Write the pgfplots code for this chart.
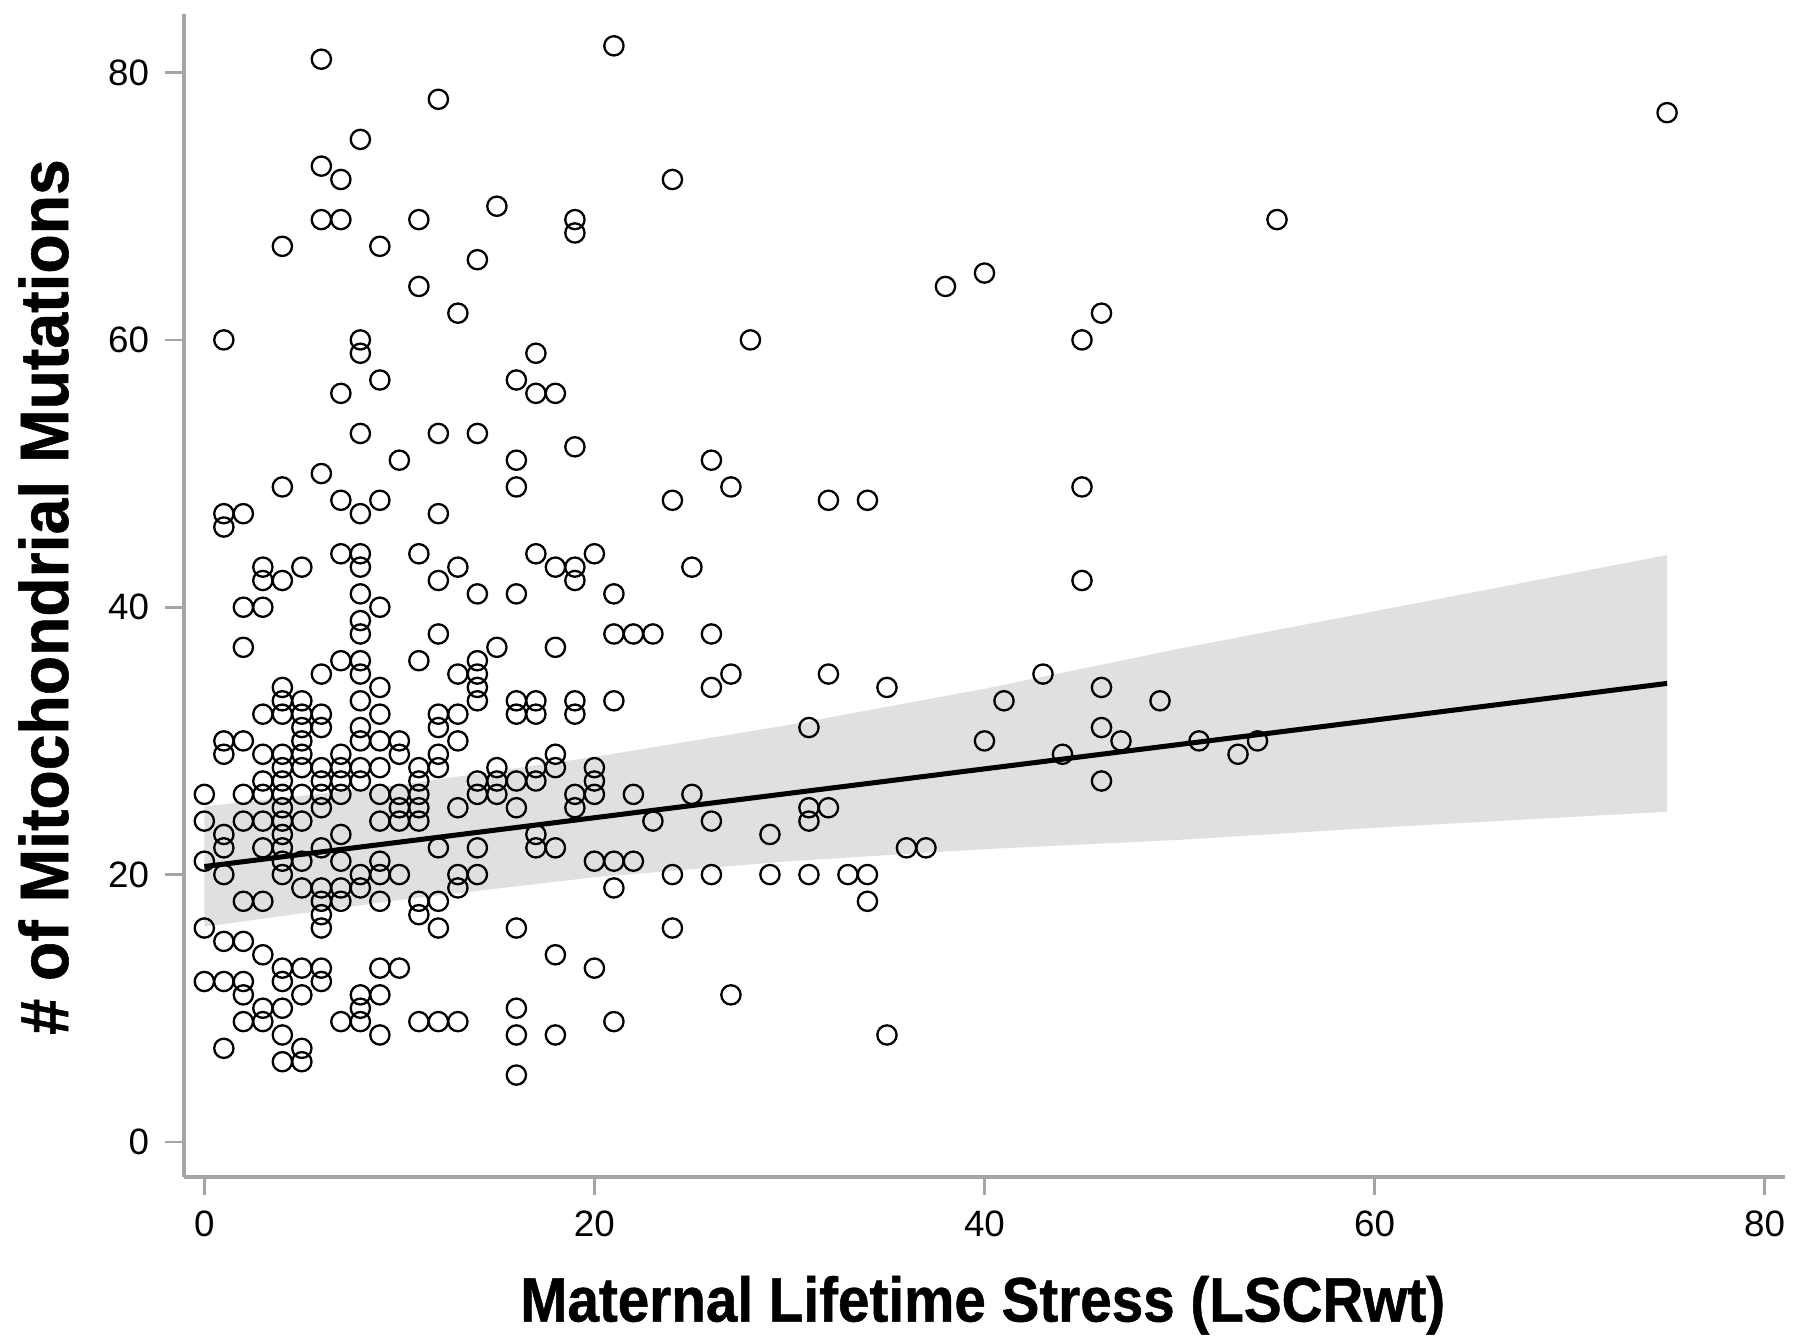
\documentclass[border=0pt]{standalone}
\usepackage{fontspec}
\setmainfont{Liberation Sans}
\newfontfamily\xlabelfont[FakeStretch=0.90,FakeBold=0.8]{Liberation Sans}
\newfontfamily\ylabelfont[FakeStretch=0.94,FakeBold=0.8]{Liberation Sans}
\usepackage{pgfplots}
\pgfplotsset{compat=1.18}
\definecolor{bandgray}{RGB}{226,223,224}
\definecolor{axisgray}{RGB}{165,165,165}

\begin{document}
\begin{tikzpicture}
  \begin{axis}[
      scale only axis, width=348.75pt, height=253.25pt,
      xmin=-1.06, xmax=81.05, ymin=-2.6, ymax=84.4,
      axis x line=bottom, axis y line=left,
      axis line style={-, axisgray, line width=0.9pt},
      xtick={0,20,40,60,80}, ytick={0,20,40,60,80},
      tick align=outside, major tick length=4pt,
      tick style={axisgray, line width=0.6pt},
      tick label style={font=\fontsize{8}{9}\selectfont},
      /pgf/number format/assume math mode=true,
      xlabel={Maternal Lifetime Stress (LSCRwt)},
      ylabel={\# of Mitochondrial Mutations},
      xlabel style={font=\xlabelfont\bfseries\fontsize{13.7}{15}\selectfont,
        at={(axis description cs:0.499,-0.1106)}, anchor=center},
      ylabel style={font=\ylabelfont\bfseries\fontsize{14.9}{16}\selectfont,
        at={(axis description cs:-0.0875,0.4985)}, anchor=center},
    ]
    % confidence band of the fit
    \addplot[fill=bandgray, draw=none] coordinates {
      (0,25.1) (10,26.7) (20,28.8) (30,31.2) (40,33.9) (50,36.9) (60,39.7) (75,43.9)
      (75,24.7) (60,23.5) (50,22.6) (40,21.9) (30,21.0) (20,19.8) (10,18.1) (0,16.1)};
    % observations
    \addplot[only marks, mark=o, mark size=2.1pt, mark options={black, line width=0.5pt}]
      coordinates {
      (0,26) (0,24) (0,21) (0,16) (0,12)
      (1,60) (1,47) (1,46) (1,30) (1,29) (1,23) (1,22) (1,20) (1,15) (1,12) (1,7)
      (2,47) (2,40) (2,37) (2,30) (2,26) (2,24) (2,18) (2,15) (2,12) (2,11) (2,9)
      (3,43) (3,42) (3,40) (3,32) (3,29) (3,27) (3,26) (3,24) (3,22) (3,18) (3,14) (3,10) (3,9)
      (4,67) (4,49) (4,42) (4,34) (4,33) (4,32) (4,29) (4,28) (4,27) (4,26) (4,25) (4,24)
      (4,23) (4,22) (4,21) (4,20) (4,13) (4,12) (4,10) (4,8) (4,6)
      (5,43) (5,33) (5,32) (5,31) (5,30) (5,29) (5,28) (5,26) (5,24) (5,21) (5,19) (5,13)
      (5,11) (5,7) (5,6)
      (6,81) (6,73) (6,69) (6,50) (6,35) (6,32) (6,31) (6,28) (6,27) (6,26) (6,25) (6,22)
      (6,19) (6,18) (6,17) (6,16) (6,13) (6,12)
      (7,72) (7,69) (7,56) (7,48) (7,44) (7,36) (7,29) (7,28) (7,27) (7,26) (7,23) (7,21)
      (7,19) (7,18) (7,9)
      (8,75) (8,60) (8,59) (8,53) (8,47) (8,44) (8,43) (8,41) (8,39) (8,38) (8,36) (8,35)
      (8,33) (8,31) (8,30) (8,28) (8,27) (8,20) (8,19) (8,11) (8,10) (8,9)
      (9,67) (9,57) (9,48) (9,40) (9,34) (9,32) (9,30) (9,28) (9,26) (9,24) (9,21) (9,20)
      (9,18) (9,13) (9,11) (9,8)
      (10,51) (10,30) (10,29) (10,26) (10,25) (10,24) (10,20) (10,13)
      (11,69) (11,64) (11,44) (11,36) (11,28) (11,27) (11,26) (11,25) (11,24) (11,18) (11,17) (11,9)
      (12,78) (12,53) (12,47) (12,42) (12,38) (12,32) (12,31) (12,29) (12,28) (12,22) (12,18) (12,16) (12,9)
      (13,62) (13,43) (13,35) (13,32) (13,30) (13,25) (13,20) (13,19) (13,9)
      (14,66) (14,53) (14,41) (14,36) (14,35) (14,34) (14,33) (14,27) (14,26) (14,22) (14,20)
      (15,70) (15,37) (15,28) (15,27) (15,26)
      (16,57) (16,51) (16,49) (16,41) (16,33) (16,32) (16,27) (16,25) (16,16) (16,10) (16,8) (16,5)
      (17,59) (17,56) (17,44) (17,33) (17,32) (17,28) (17,27) (17,23) (17,22)
      (18,56) (18,43) (18,37) (18,29) (18,28) (18,22) (18,14) (18,8)
      (19,69) (19,68) (19,52) (19,43) (19,42) (19,33) (19,32) (19,26) (19,25)
      (20,44) (20,28) (20,27) (20,26) (20,21) (20,13)
      (21,82) (21,41) (21,38) (21,33) (21,21) (21,19) (21,9)
      (22,38) (22,26) (22,21)
      (23,38) (23,24)
      (24,72) (24,48) (24,20) (24,16)
      (25,43) (25,26)
      (26,51) (26,38) (26,34) (26,24) (26,20)
      (27,49) (27,35) (27,11)
      (28,60)
      (29,23) (29,20)
      (31,31) (31,25) (31,24) (31,20)
      (32,48) (32,35) (32,25)
      (33,20)
      (34,48) (34,20) (34,18)
      (35,34) (35,8)
      (36,22) (37,22) (38,64)
      (40,65) (40,30) (41,33) (43,35) (44,29)
      (45,60) (45,49) (45,42)
      (46,62) (46,34) (46,31) (46,27)
      (47,30) (49,33) (51,30) (53,29) (54,30) (55,69) (75,77)
    };
    % fitted line
    \addplot[black, line width=1.1pt] coordinates {(0,20.6) (75,34.3)};
  \end{axis}
  % page frame matching the reference margins
  \pgfresetboundingbox
  \path ([shift={(-40pt,-34.75pt)}]current axis.south west)
    rectangle ([shift={(3.25pt,3pt)}]current axis.north east);
\end{tikzpicture}
\end{document}
